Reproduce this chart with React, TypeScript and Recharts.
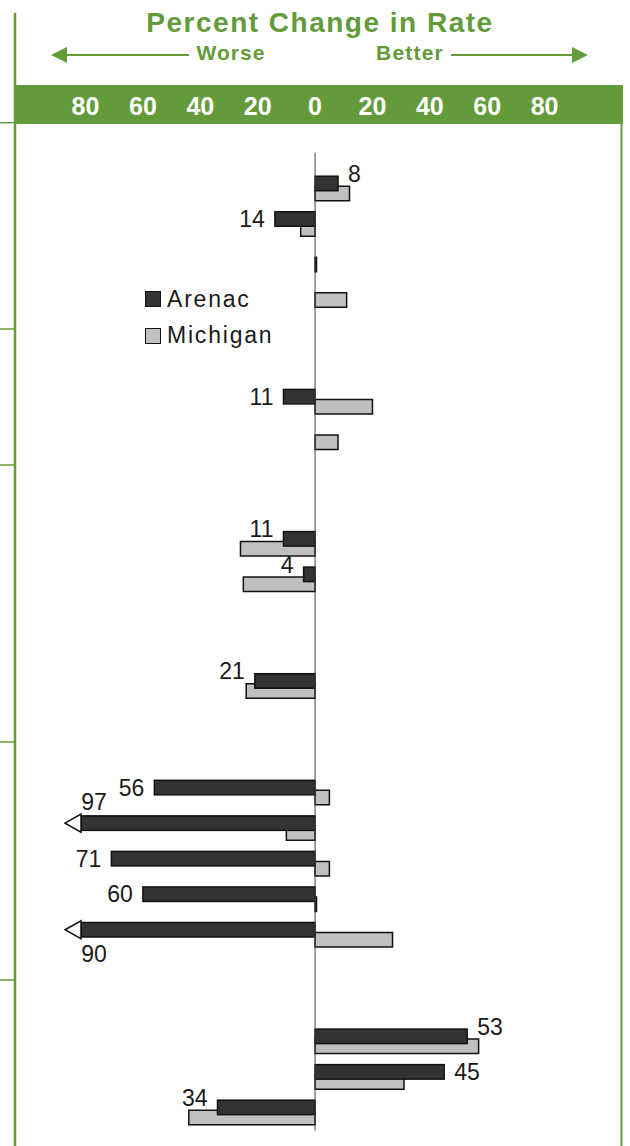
import { BarChart, Bar, XAxis, YAxis, ReferenceLine, LabelList, Legend } from 'recharts'

// one entry per indicator row (row labels sit in the table to the left, outside this crop)
const ROWS = [
  '1', '2', '3', '4', '5', '6', '7', '8', '9', '10', '11', '12', '13', '14',
  '15', '16', '17', '18', '19', '20', '21', '22', '23', '24', '25', '26', '27',
]
// percent change, positive = better, negative = worse
const ARENAC = [
  8, -14, null, null, null, null, -11, null, null, null, -11, -4, null, null,
  -21, null, null, -56, -97, -71, -60, -90, null, null, 53, 45, -34,
]
const MICHIGAN = [
  12, -5, 0.5, 11, null, null, 20, 8, null, null, -26, -25, null, null,
  -24, null, null, 5, -10, 5, 0.5, 27, null, null, 57, 31, -44,
]
const X_TICKS = [-80, -60, -40, -20, 0, 20, 40, 60, 80]

const X_MIN = -87.5
const X_MAX = 100

const GREEN = '#639b3a'
const DARK = '#333333'
const LIGHT = '#c0c0c0'
const EDGE = '#111'
const FONT = '"Liberation Sans", Arial, sans-serif'

const data = ROWS.map((row, i) => ({ row, arenac: ARENAC[i], michigan: MICHIGAN[i] }))

function ArenacBar(props: any) {
  const { x, y, width, height, payload } = props
  const v = payload?.arenac
  if (v == null || !height) return null
  const a = Math.min(x, x + width)
  const b = Math.max(x, x + width)
  if (v >= X_MIN) {
    return <rect x={a} y={y} width={b - a} height={height} fill={DARK} stroke={EDGE} strokeWidth={1.5} />
  }
  // value runs off the left edge: cut the bar and put an open arrow head on it
  const perUnit = (b - a) / Math.abs(v)
  const tip = b + X_MIN * perUnit + 1
  const head = 16
  const cy = y + height / 2
  return (
    <g>
      <rect x={tip + head} y={y} width={b - tip - head} height={height} fill={DARK} stroke={EDGE} strokeWidth={1.5} />
      <polygon
        points={`${tip},${cy} ${tip + head},${cy - 9} ${tip + head},${cy + 9}`}
        fill="#fff" stroke={EDGE} strokeWidth={1.5}
      />
    </g>
  )
}

// label value is the row id, so the row's own numbers can be looked up
function ArenacLabel(props: any) {
  const i = ROWS.indexOf(props.value)
  const vb = props.viewBox ?? props
  if (i < 0 || vb == null || vb.x == null) return null
  const value = ARENAC[i]
  if (value == null) return null
  const a = Math.min(vb.x, vb.x + vb.width)
  const b = Math.max(vb.x, vb.x + vb.width)
  const cy = vb.y + vb.height / 2
  const style = { fontSize: 23, fontFamily: FONT, fill: '#1a1a1a' }

  if (value < X_MIN) {
    const perUnit = (b - a) / Math.abs(value)
    const tip = b + X_MIN * perUnit
    const prev = i > 0 ? ARENAC[i - 1] : null
    const below = prev != null && prev < -58
    return (
      <text x={tip + 30} y={below ? cy + 24 : cy - 21} dy="0.36em" textAnchor="middle" {...style}>
        {Math.abs(value)}
      </text>
    )
  }

  const m = MICHIGAN[i]
  const raise = m != null && Math.sign(m) === Math.sign(value) && Math.abs(m) > Math.abs(value) ? 10 : 0
  const neg = value < 0
  return (
    <text x={neg ? a - 10 : b + 10} y={cy - raise} dy="0.36em" textAnchor={neg ? 'end' : 'start'} {...style}>
      {Math.abs(value)}
    </text>
  )
}

function HeaderTick({ x, payload }: any) {
  return (
    <text x={x} y={115} textAnchor="middle" fill="#fff" fontSize={25} fontWeight="bold" fontFamily={FONT}>
      {Math.abs(payload.value)}
    </text>
  )
}

function LegendBox({ payload }: any) {
  return (
    <div style={{ fontFamily: FONT, fontSize: 23, color: '#1a1a1a' }}>
      {(payload || []).map((e: any) => (
        <div key={e.value} style={{ display: 'flex', alignItems: 'center', height: 36.5, letterSpacing: 1.8 }}>
          <span style={{
            display: 'inline-block', width: 14, height: 14, background: e.color,
            border: `1.5px solid ${EDGE}`, marginRight: 6,
          }} />
          {e.value}
        </div>
      ))}
    </div>
  )
}

function Frame() {
  const stubs = [122.7, 329, 465, 742, 980]
  return (
    <svg width={630} height={1146} style={{ position: 'absolute', left: 0, top: 0 }}>
      <text x={320} y={32} textAnchor="middle" fill={GREEN} fontSize={28} fontWeight="bold"
        fontFamily={FONT} letterSpacing={1.5}>Percent Change in Rate</text>
      <text x={231} y={60} textAnchor="middle" fill={GREEN} fontSize={21} fontWeight="bold"
        fontFamily={FONT} letterSpacing={1}>Worse</text>
      <text x={410} y={60} textAnchor="middle" fill={GREEN} fontSize={21} fontWeight="bold"
        fontFamily={FONT} letterSpacing={1.2}>Better</text>
      <line x1={66} y1={55} x2={189} y2={55} stroke={GREEN} strokeWidth={2} />
      <polygon points="51,55 67,47 67,63" fill={GREEN} />
      <line x1={451} y1={55} x2={573} y2={55} stroke={GREEN} strokeWidth={2} />
      <polygon points="588,55 572,47 572,63" fill={GREEN} />
      <rect x={15} y={85} width={608} height={39} fill={GREEN} />
      <line x1={15} y1={13} x2={15} y2={1146} stroke={GREEN} strokeWidth={2.5} />
      <line x1={621.5} y1={85} x2={621.5} y2={1146} stroke={GREEN} strokeWidth={2} />
      {stubs.map(s => (
        <line key={s} x1={0} y1={s} x2={15} y2={s} stroke={GREEN} strokeWidth={1.5} />
      ))}
    </svg>
  )
}

export default function App() {
  return (
    <div style={{ position: 'relative', width: 630, height: 1146, background: '#fff', overflow: 'hidden' }}>
      <style>{'body{margin:0}'}</style>
      <Frame />
      <div style={{ position: 'absolute', left: 0, top: 0 }}>
        <BarChart
          width={630}
          height={1146}
          data={data}
          layout="vertical"
          margin={{ top: 85, right: 28, bottom: 15.3, left: 64 }}
          barGap={-4.5}
          barSize={14.5}
        >
          <XAxis
            type="number"
            orientation="top"
            domain={[X_MIN, X_MAX]}
            allowDataOverflow
            ticks={X_TICKS}
            interval={0}
            height={67.7}
            axisLine={false}
            tickLine={false}
            tick={<HeaderTick />}
          />
          <YAxis type="category" dataKey="row" hide width={0} padding={{ top: 17.5, bottom: 1 }} />
          <Legend
            layout="vertical"
            align="center"
            verticalAlign="middle"
            wrapperStyle={{ left: 145, top: 281, width: 'auto', height: 'auto' }}
            content={<LegendBox />}
          />
          <Bar dataKey="arenac" name="Arenac" fill={DARK} stroke={EDGE} strokeWidth={1.5}
            shape={<ArenacBar />} isAnimationActive={false} legendType="square" zIndex={310}>
            <LabelList valueAccessor={(entry: any) => entry?.payload?.row} content={<ArenacLabel />} />
          </Bar>
          <Bar dataKey="michigan" name="Michigan" fill={LIGHT} stroke={EDGE} strokeWidth={1.5}
            isAnimationActive={false} legendType="square" />
          <ReferenceLine x={0} stroke="#444" strokeWidth={1} />
        </BarChart>
      </div>
    </div>
  )
}
